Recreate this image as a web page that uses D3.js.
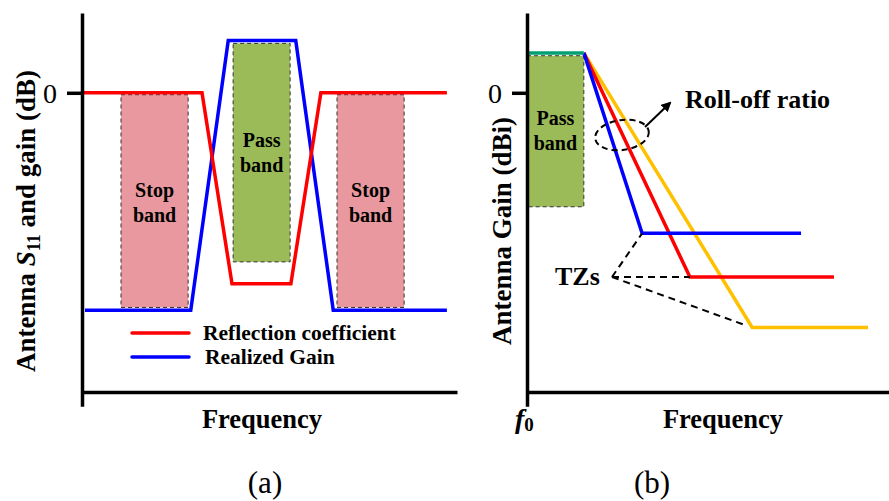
<!DOCTYPE html>
<meta charset="utf-8">
<body style="margin:0;background:#fff">
<div id="chart"></div>
<script src="https://cdn.jsdelivr.net/npm/d3@7"></script>
<script>
// ---- data (arbitrary frequency units 0..10, gain in dB) ----
const freqA = [0.03, 3.2, 4.0, 5.57, 6.37, 9.73];
const reflA = [0, 0, -20.1, -20.1, 0, 0];
const gainFreqA = [0.08, 2.9, 3.9, 5.7, 6.7, 9.73];
const gainA = [-22.9, -22.9, 5.5, 5.5, -22.9, -22.9];
const bandsA = [
  {name: ["Stop", "band"], f0: 1.04, f1: 2.83, top: -0.2, bottom: -22.6, fill: "#e8989e"},
  {name: ["Pass", "band"], f0: 4.03, f1: 5.55, top: 5.2, bottom: -17.8, fill: "#9bbb59"},
  {name: ["Stop", "band"], f0: 6.8, f1: 8.59, top: -0.2, bottom: -22.6, fill: "#e8989e"}
];
const legendLabels = ["Reflection coefficient", "Realized Gain"];

const passFreqB = [0, 1.57];
const passGainB = 4.2;
const roll = [
  {color: "#0000ff", tzFreq: 3.18, tzGain: -14.8, endFreq: 7.57},
  {color: "#ff0000", tzFreq: 4.5, tzGain: -19.4, endFreq: 8.48},
  {color: "#ffc000", tzFreq: 6.22, tzGain: -24.7, endFreq: 9.42}
];
const bandB = {name: ["Pass", "band"], f0: 0, f1: 1.57, top: 3.9, bottom: -12.0};

const FONT = "Liberation Serif";
const width = 889, height = 501;
const svg = d3.select("#chart").append("svg")
  .attr("width", width).attr("height", height);

// every text gets the serif face directly
function addText(parent) {
  return parent.append("text").attr("font-family", FONT);
}

const yMin = -31.5, yMax = 8.4;
const y = d3.scaleLinear().domain([yMin, yMax]).range([392, 13]);
const yAxisScale = d3.scaleLinear().domain([-33, yMax]).range([y(-33), 13]);
const xA = d3.scaleLinear().domain([0, 10]).range([82, 457]);
const xB = d3.scaleLinear().domain([0, 10]).range([527, 889]);

function drawAxes(x, title, titleX) {
  const g = svg.append("g");
  g.append("g")
    .attr("transform", `translate(${x(0)},0)`)
    .call(d3.axisLeft(yAxisScale).tickValues([0]).tickSize(15).tickSizeOuter(0).tickPadding(10))
    .attr("font-family", FONT)
    .call(a => a.select(".domain").attr("stroke-width", 3.5))
    .call(a => a.selectAll(".tick line").attr("stroke-width", 3.5))
    .call(a => a.selectAll(".tick text").attr("font-size", 28).attr("font-family", FONT).attr("dy", "0.34em"));
  g.append("g")
    .attr("transform", `translate(0,${y(yMin)})`)
    .call(d3.axisBottom(x).tickValues([]).tickSizeOuter(0))
    .call(a => a.select(".domain").attr("stroke-width", 3.5));
  addText(g)
    .attr("x", titleX).attr("y", 428)
    .attr("text-anchor", "middle").attr("font-weight", "bold").attr("font-size", 26.5)
    .text(title);
  return g;
}

function drawBand(x, b) {
  svg.append("rect")
    .attr("x", x(b.f0)).attr("y", y(b.top))
    .attr("width", x(b.f1) - x(b.f0)).attr("height", y(b.bottom) - y(b.top))
    .attr("fill", b.fill || "#9bbb59")
    .attr("stroke", "#333").attr("stroke-width", 1).attr("stroke-dasharray", "4,3");
}
function bandLabel(x, b, baseline) {
  b.name.forEach((s, i) => addText(svg)
    .attr("text-anchor", "middle").attr("font-weight", "bold").attr("font-size", 20)
    .attr("x", (x(b.f0) + x(b.f1)) / 2).attr("y", baseline + i * 24.5).text(s));
}

// ---- panel (a) ----
bandsA.forEach(b => drawBand(xA, b));
bandLabel(xA, bandsA[0], 197);
bandLabel(xA, bandsA[1], 147);
bandLabel(xA, bandsA[2], 197);

const line = (x) => d3.line().x(d => x(d[0])).y(d => y(d[1]));
svg.append("path")
  .datum(d3.zip(gainFreqA, gainA))
  .attr("d", line(xA)).attr("fill", "none").attr("stroke", "#0000ff").attr("stroke-width", 3.5);
svg.append("path")
  .datum(d3.zip(freqA, reflA))
  .attr("d", line(xA)).attr("fill", "none").attr("stroke", "#ff0000").attr("stroke-width", 3.5);

drawAxes(xA, "Frequency", 262);

// legend
const legend = svg.append("g");
["#ff0000", "#0000ff"].forEach((c, i) => {
  legend.append("line")
    .attr("x1", 132).attr("x2", 189).attr("y1", 333 + i * 24).attr("y2", 333 + i * 24)
    .attr("stroke", c).attr("stroke-width", 3.5).attr("stroke-linecap", "round");
  addText(legend)
    .attr("x", 203 + i * 2).attr("y", 340 + i * 24)
    .attr("font-weight", "bold").attr("font-size", 21.5)
    .text(legendLabels[i]);
});

// y title (a)
const ta = addText(svg)
  .attr("transform", "translate(35,221) rotate(-90)")
  .attr("text-anchor", "middle").attr("font-weight", "bold").attr("font-size", 27);
ta.append("tspan").text("Antenna ");
ta.append("tspan").attr("font-style", "italic").text("S");
ta.append("tspan").attr("font-size", 18).attr("dy", 5).text("11");
ta.append("tspan").attr("dy", -5).text(" and gain (dB)");

// ---- panel (b) ----
drawBand(xB, bandB);
bandLabel(xB, bandB, 125);

roll.slice().reverse().forEach(r => {
  svg.append("path")
    .datum([[passFreqB[1], passGainB], [r.tzFreq, r.tzGain], [r.endFreq, r.tzGain]])
    .attr("d", line(xB)).attr("fill", "none").attr("stroke", r.color).attr("stroke-width", 3.5);
});
svg.append("path")
  .datum(passFreqB.map(f => [f, passGainB]))
  .attr("d", line(xB)).attr("fill", "none").attr("stroke", "#00a070").attr("stroke-width", 3.5);

drawAxes(xB, "Frequency", 723);

// f0 label
const f0 = addText(svg)
  .attr("x", xB(0) - 12).attr("y", 428)
  .attr("font-weight", "bold").attr("font-size", 28);
f0.append("tspan").attr("font-style", "italic").text("f");
f0.append("tspan").attr("font-size", 19).attr("dy", 3).text("0");

// y title (b)
addText(svg)
  .attr("transform", "translate(511,231) rotate(-90)")
  .attr("text-anchor", "middle").attr("font-weight", "bold").attr("font-size", 27)
  .text("Antenna Gain (dBi)");

// roll-off ellipse + arrow
svg.append("defs").append("marker")
  .attr("id", "arrow").attr("viewBox", "0 0 10 10").attr("refX", 8).attr("refY", 5)
  .attr("markerWidth", 5).attr("markerHeight", 5).attr("orient", "auto")
  .append("path").attr("d", "M0,0 L10,5 L0,10 z").attr("fill", "#000");
svg.append("ellipse")
  .attr("cx", 622).attr("cy", 135).attr("rx", 27).attr("ry", 15)
  .attr("transform", "rotate(-8,622,135)")
  .attr("fill", "none").attr("stroke", "#000").attr("stroke-width", 2).attr("stroke-dasharray", "6,4");
svg.append("line")
  .attr("x1", 645).attr("y1", 127).attr("x2", 670).attr("y2", 103)
  .attr("stroke", "#000").attr("stroke-width", 2).attr("marker-end", "url(#arrow)");
addText(svg)
  .attr("x", 685).attr("y", 108).attr("font-weight", "bold").attr("font-size", 26)
  .text("Roll-off ratio");

// TZs pointers
addText(svg)
  .attr("x", 555).attr("y", 285).attr("font-weight", "bold").attr("font-size", 26)
  .text("TZs");
const tzOrigin = [612, 277];
roll.forEach((r, i) => {
  const tx = xB(r.tzFreq) - (i === 2 ? 9 : 0), ty = y(r.tzGain) - (i === 2 ? 3 : 0);
  svg.append("line")
    .attr("x1", tzOrigin[0]).attr("y1", tzOrigin[1]).attr("x2", tx).attr("y2", ty)
    .attr("stroke", "#000").attr("stroke-width", 2).attr("stroke-dasharray", "7,5");
});

// sub captions
addText(svg).attr("x", 265).attr("y", 493).attr("text-anchor", "middle")
  .attr("font-size", 31).text("(a)");
addText(svg).attr("x", 652).attr("y", 493).attr("text-anchor", "middle")
  .attr("font-size", 31).text("(b)");
</script>
</body>
